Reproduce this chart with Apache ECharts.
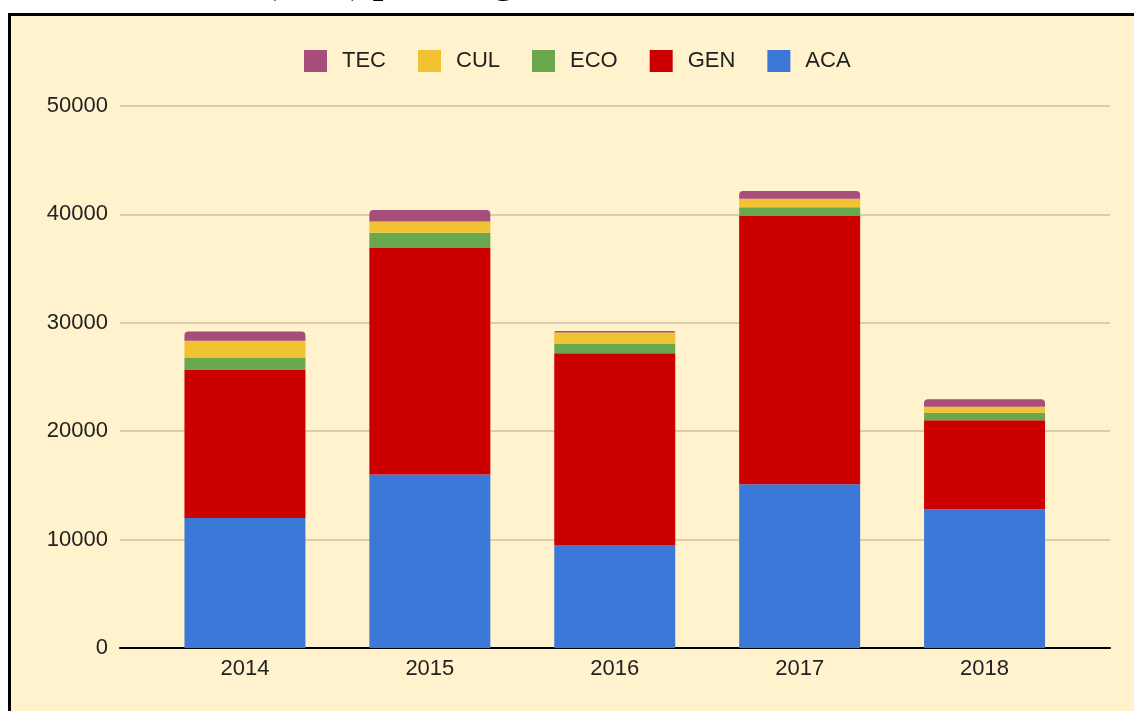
<!DOCTYPE html>
<html>
<head>
<meta charset="utf-8">
<script src="https://cdn.jsdelivr.net/npm/echarts@6/dist/echarts.min.js"></script>
<style>
  html, body { margin: 0; padding: 0; background: #fff; overflow: hidden; }
  #frame {
    position: absolute; left: 8px; top: 13px; width: 1200px; height: 800px;
    border: 3px solid #000; background: #fff2cc;
  }
  #main { position: absolute; left: 0; top: 0; width: 1134px; height: 711px; }
</style>
</head>
<body>
<div id="frame"></div>
<div id="main"></div>
<script>
// years on the x axis
var years = ['2014', '2015', '2016', '2017', '2018'];

// stacked values, bottom to top
var aca = [12000, 16000, 9500, 15100, 12800];
var gen = [13700, 20900, 17700, 24800, 8200];
var eco = [1100, 1400, 850, 750, 700];
var cul = [1550, 1050, 1050, 800, 550];
var tec = [850, 1050, 150, 700, 700];

var legendOrder = ['TEC', 'CUL', 'ECO', 'GEN', 'ACA'];

var textColor = '#222';
var fontName = '"Liberation Sans", Arial, sans-serif';

function barSeries(name, values, color, top) {
    return {
        name: name,
        type: 'bar',
        stack: 'total',
        xAxisIndex: 1,
        yAxisIndex: 1,
        barWidth: 121,
        itemStyle: {
            color: color,
            borderRadius: top ? [4, 4, 0, 0] : 0
        },
        data: values
    };
}

var option = {
    backgroundColor: 'transparent',
    animation: false,
    textStyle: { fontFamily: fontName },
    graphic: [{
        type: 'text',
        left: 264,
        top: -36,
        style: {
            text: '(total) per range',
            font: 'bold 38px "Liberation Serif", "Times New Roman", serif',
            fill: '#000'
        }
    }],
    legend: {
        data: legendOrder,
        left: 299,
        top: 45,
        itemWidth: 23,
        itemHeight: 22,
        itemGap: 32,
        icon: 'rect',
        itemStyle: { borderRadius: 3 },
        textStyle: { fontSize: 22, color: textColor, padding: [0, 0, 0, 10] }
    },
    grid: [
        { left: 120, right: 24, top: 106, bottom: 63 },
        { left: 152.5, right: 57, top: 106, bottom: 63 }
    ],
    xAxis: [
        {
            gridIndex: 0,
            type: 'value',
            min: 0,
            max: 1,
            axisLine: { show: true, onZero: false, lineStyle: { color: '#000', width: 2 } },
            axisTick: { show: false },
            axisLabel: { show: false },
            splitLine: { show: false }
        },
        {
            gridIndex: 1,
            type: 'category',
            data: years,
            axisLine: { show: false },
            axisTick: { show: false },
            axisLabel: { fontSize: 22, color: textColor, margin: 10 }
        }
    ],
    yAxis: [
        {
            gridIndex: 0,
            type: 'value',
            min: 0,
            max: 50000,
            interval: 10000,
            axisLine: { show: false },
            axisTick: { show: false },
            axisLabel: {
                fontSize: 22,
                color: textColor,
                margin: 12,
                formatter: function (v) { return String(v); }
            },
            splitLine: { lineStyle: { color: 'rgba(0,0,0,0.2)', width: 1.5 } }
        },
        {
            gridIndex: 1,
            type: 'value',
            min: 0,
            max: 50000,
            show: false,
            splitLine: { show: false }
        }
    ],
    series: [
        barSeries('ACA', aca, '#3c78d8', false),
        barSeries('GEN', gen, '#cc0000', false),
        barSeries('ECO', eco, '#6aa84f', false),
        barSeries('CUL', cul, '#f1c232', false),
        barSeries('TEC', tec, '#a64d79', true)
    ]
};

var chart = echarts.init(document.getElementById('main'));
chart.setOption(option);
</script>
</body>
</html>
